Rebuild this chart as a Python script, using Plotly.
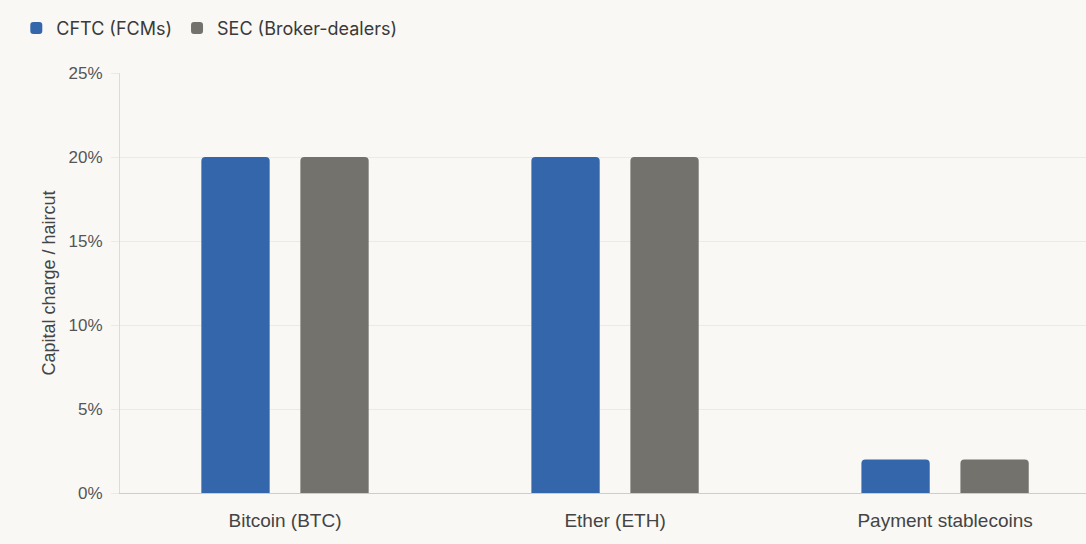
import plotly.graph_objects as go

# Capital charge / haircut by asset type
categories = ["Bitcoin (BTC)", "Ether (ETH)", "Payment stablecoins"]
cftc_fcm = [20, 20, 2]
sec_bd = [20, 20, 2]
y_ticks = [0, 5, 10, 15, 20, 25]
y_tick_labels = ["0%", "5%", "10%", "15%", "20%", "25%"]

BLUE = "#3366ab"
GREY = "#74726d"
BG = "#f9f8f5"

fig = go.Figure()
fig.add_trace(go.Bar(name="CFTC (FCMs)", x=categories, y=cftc_fcm,
                     marker=dict(color=BLUE, line=dict(width=0))))
fig.add_trace(go.Bar(name="SEC (Broker-dealers)", x=categories, y=sec_bd,
                     marker=dict(color=GREY, line=dict(width=0))))

fig.update_layout(
    width=1086, height=544,
    barmode="group", bargap=0.4, bargroupgap=0.31, barcornerradius=4,
    paper_bgcolor=BG, plot_bgcolor=BG,
    margin=dict(l=120, r=0, t=73, b=51),
    font=dict(family="Liberation Sans, Arial, sans-serif", color="#444"),
    legend=dict(orientation="h", xref="container", yref="container",
                x=0.015, y=0.948, xanchor="left", yanchor="middle",
                font=dict(family="Inter, sans-serif", size=18, color="#3a3a3a"),
                itemwidth=30, bgcolor="rgba(0,0,0,0)"),
    xaxis=dict(range=[-0.5, 2.427], showgrid=False, showline=True,
               linecolor="#cfcdc8", linewidth=1, ticks="",
               ticklabelstandoff=10,
               tickfont=dict(size=19, color="#444")),
    yaxis=dict(range=[0, 25], tickvals=y_ticks, ticktext=y_tick_labels,
               showgrid=True, gridcolor="#eceae6", gridwidth=1,
               showline=True, linecolor="#dddbd6", linewidth=1,
               ticks="outside", ticklen=8, tickcolor="#eceae6",
               ticklabelstandoff=5,
               tickfont=dict(size=17, color="#555"),
               zeroline=False,
               title=dict(text="Capital charge / haircut", standoff=8,
                          font=dict(size=18, color="#444"))),
)

fig.write_html("out.html", config={"displayModeBar": False},
               post_script="document.body.style.margin='0';"
                           "document.body.style.background='%s';" % BG)
